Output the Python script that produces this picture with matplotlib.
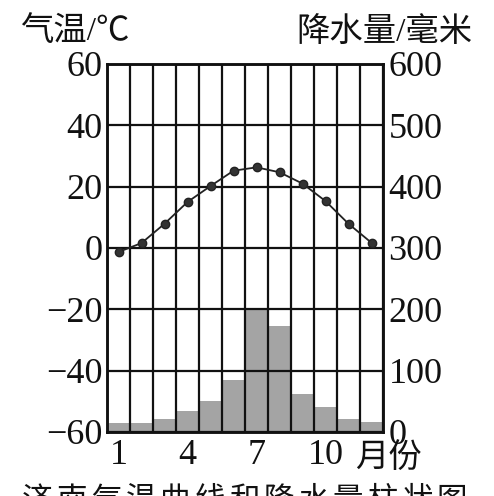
import matplotlib
matplotlib.use("Agg")
import matplotlib.pyplot as plt
import numpy as np

months = [1, 2, 3, 4, 5, 6, 7, 8, 9, 10, 11, 12]
temperature = [-1.3, 1.6, 7.9, 15.0, 20.2, 25.2, 26.3, 24.7, 21.0, 15.3, 7.9, 1.7]
precipitation = [14, 14, 21, 35, 51, 84, 200, 173, 62, 40, 22, 16]
temp_ticks = [-60, -40, -20, 0, 20, 40, 60]
precip_ticks = [0, 100, 200, 300, 400, 500, 600]
month_labels = [1, 4, 7, 10]
title_text = '济南气温曲线和降水量柱状图'

FAM = ['Liberation Serif', 'Noto Sans CJK SC']
plt.rcParams['font.family'] = FAM

W, H = 494, 496
fig = plt.figure(figsize=(W / 100, H / 100), dpi=100)
left, right, top, bottom = 107, 383, 64, 432
ax = fig.add_axes([left / W, 1 - bottom / H, (right - left) / W, (bottom - top) / H])
ax2 = ax.twinx()

ax2.set_zorder(1)
ax.set_zorder(2)
ax.patch.set_visible(False)

ax2.bar(months, precipitation, width=1.0, color='#a4a4a4', edgecolor='none', zorder=1)
ax2.set_ylim(0, 600)
ax2.set_yticks(precip_ticks)
ax2.set_yticklabels([str(v) for v in precip_ticks])

ax.plot(months, temperature, color='#222222', lw=1.3, marker='o', ms=6,
        mfc='#333333', mec='#222222', zorder=3)
ax.set_xlim(0.5, 12.5)
ax.set_ylim(-60, 60)
ax.set_yticks(temp_ticks)
ax.set_yticklabels(['\u2212' + str(-v) if v < 0 else str(v) for v in temp_ticks])
ax.set_xticks(month_labels)
ax.set_xticks(np.arange(0.5, 13.0, 1.0), minor=True)
ax.set_xticklabels([str(m) for m in month_labels])

ax.grid(True, which='major', axis='y', color='#111111', lw=1.6)
ax.grid(True, which='minor', axis='x', color='#111111', lw=1.6)

for a in (ax, ax2):
    for s in a.spines.values():
        s.set_color('#111111')
        s.set_linewidth(1.8)
    a.tick_params(which='both', length=0, labelsize=26, colors='#111111')
ax.tick_params(axis='y', pad=3)
ax2.tick_params(axis='y', pad=4)
ax.tick_params(axis='x', pad=5)

fig.text(20 / W, 1 - 32 / H, '气温/℃', fontsize=24, va='center', ha='left', color='#111111')
fig.text(472 / W, 1 - 32 / H, '降水量/毫米', fontsize=24, va='center', ha='right', color='#111111')
fig.text(388 / W, 1 - 458 / H, '月份', fontsize=24, va='center', ha='center', color='#111111')

n = len(title_text)
x0, x1 = 37, 452
for i, ch in enumerate(title_text):
    fig.text((x0 + (x1 - x0) * i / (n - 1)) / W, 1 - 487 / H, ch, fontsize=22,
             va='top', ha='center', color='#111111')

fig.savefig('out.png', dpi=100)
